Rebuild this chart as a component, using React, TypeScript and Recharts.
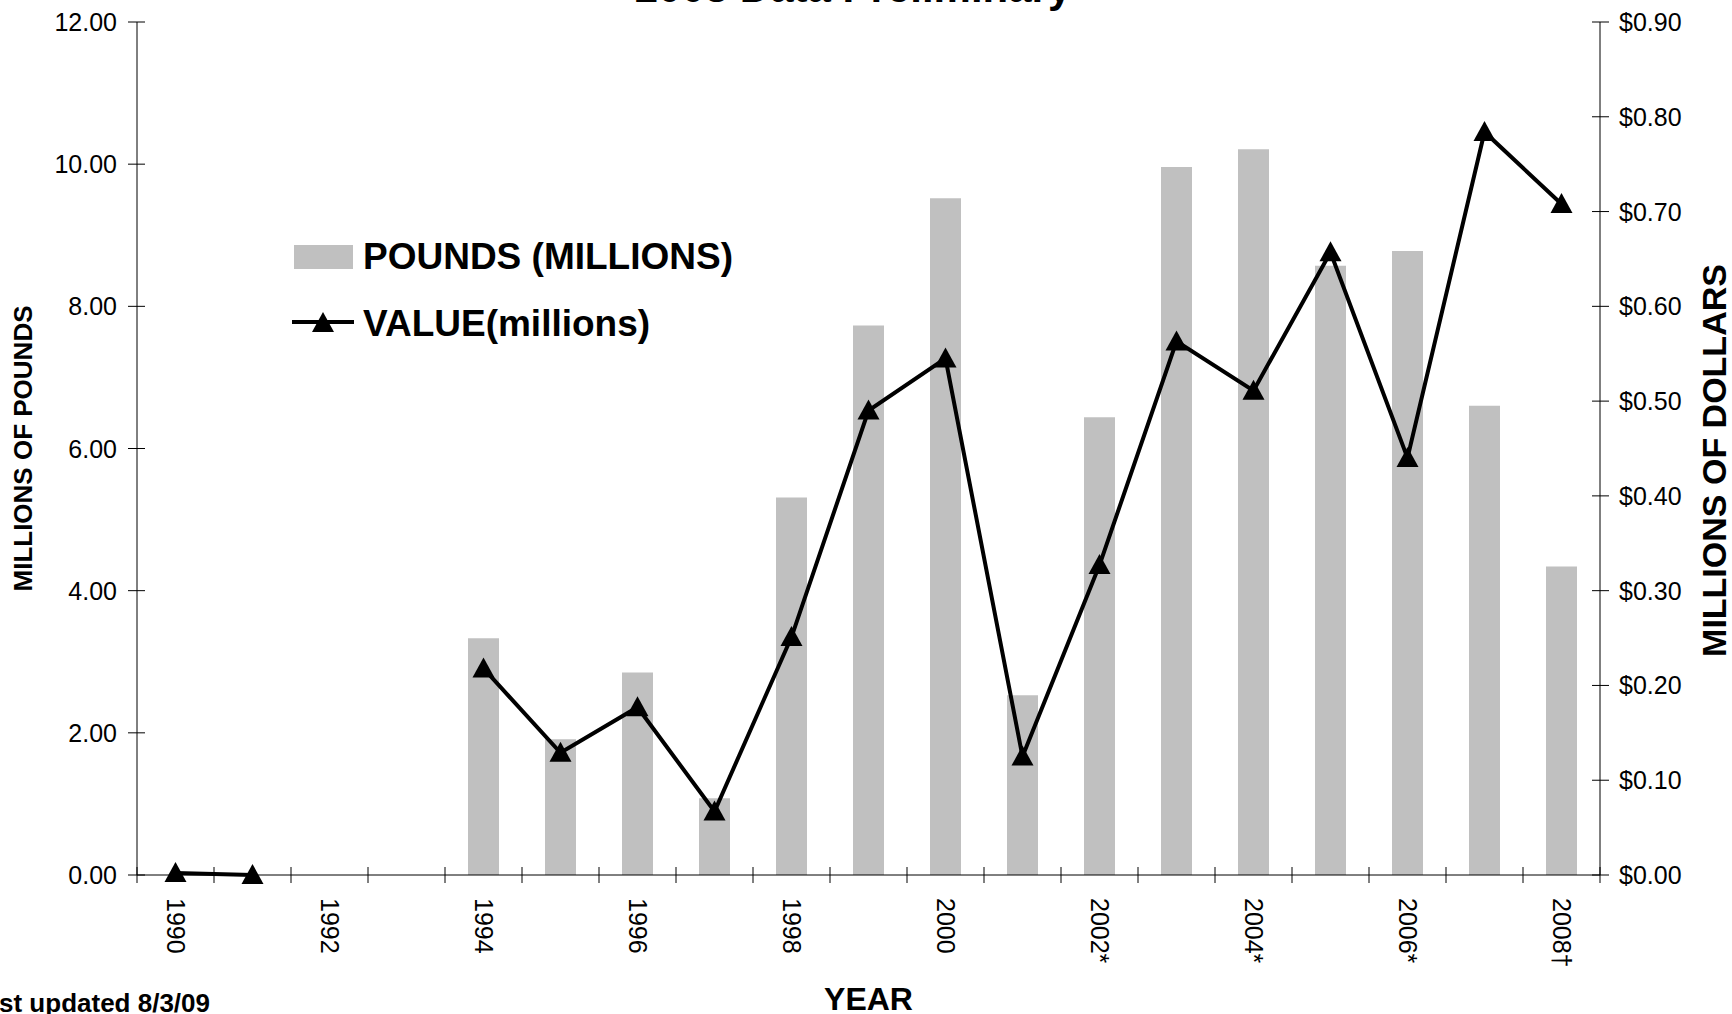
import React from 'react';
import { ComposedChart, Bar, Line, XAxis, YAxis, Legend, Label } from 'recharts';

const years = ['1990', '1991', '1992', '1993', '1994', '1995', '1996', '1997', '1998', '1999', '2000', '2001', '2002*', '2003*', '2004*', '2005*', '2006*', '2007*', '2008†'];
const pounds = [0, 0, null, null, 3.33, 1.91, 2.85, 1.08, 5.31, 7.73, 9.52, 2.53, 6.44, 9.96, 10.21, 8.57, 8.78, 6.6, 4.34];
const value = [0.002, 0.0, null, null, 0.218, 0.129, 0.177, 0.067, 0.251, 0.49, 0.545, 0.125, 0.327, 0.563, 0.511, 0.657, 0.44, 0.784, 0.708];
const poundTicks = [0, 2, 4, 6, 8, 10, 12];
const dollarTicks = [0, 0.1, 0.2, 0.3, 0.4, 0.5, 0.6, 0.7, 0.8, 0.9];

const data = years.map((year, i) => ({ year, pounds: pounds[i], value: value[i] }));

const W = 1732;
const H = 1014;
const LEFT_W = 137;
const RIGHT_W = 132;
const TOP = 22;
const X_H = 139;
const BAND = (W - LEFT_W - RIGHT_W) / years.length;
const FONT = '"Liberation Sans", Arial, sans-serif';
const GRAY = '#C0C0C0';

const Triangle = ({ cx, cy }: any) => {
  if (cx == null || cy == null) return <g />;
  return <polygon points={`${cx},${cy - 11} ${cx - 11},${cy + 9} ${cx + 11},${cy + 9}`} fill="#000" />;
};

const LeftTick = ({ x, y, payload }: any) => (
  <g>
    <line x1={x - 9} x2={x + 8} y1={y} y2={y} stroke="#000" />
    <text x={x - 20} y={y} textAnchor="end" dominantBaseline="central" fontSize={25} fill="#000" fontFamily={FONT}>
      {Number(payload.value).toFixed(2)}
    </text>
  </g>
);

const RightTick = ({ x, y, payload }: any) => (
  <g>
    <line x1={x - 8} x2={x + 9} y1={y} y2={y} stroke="#000" />
    <text x={x + 19} y={y} textAnchor="start" dominantBaseline="central" fontSize={25} fill="#000" fontFamily={FONT}>
      {'$' + Number(payload.value).toFixed(2)}
    </text>
  </g>
);

const YearTick = ({ x, y, payload, index }: any) => {
  const left = x - BAND / 2;
  return (
    <g>
      <line x1={left} x2={left} y1={y - 8} y2={y + 8} stroke="#000" />
      {index === years.length - 1 && <line x1={x + BAND / 2} x2={x + BAND / 2} y1={y - 8} y2={y + 8} stroke="#000" />}
      {index % 2 === 0 && (
        <text
          x={x}
          y={y + 23}
          transform={`rotate(90, ${x}, ${y + 23})`}
          textAnchor="start"
          dominantBaseline="central"
          fontSize={25}
          fill="#000"
          fontFamily={FONT}
        >
          {payload.value}
        </text>
      )}
    </g>
  );
};

const LegendBox = () => (
  <svg width={800} height={400} style={{ display: 'block' }}>
    <rect x={294} y={245} width={59} height={24} fill={GRAY} />
    <text x={363} y={269} fontSize={37} fontWeight="bold" fontFamily={FONT} fill="#000">POUNDS (MILLIONS)</text>
    <line x1={292} x2={354} y1={322} y2={322} stroke="#000" strokeWidth={4} />
    <Triangle cx={323} cy={323} />
    <text x={363} y={336} fontSize={37} fontWeight="bold" fontFamily={FONT} fill="#000">VALUE(millions)</text>
  </svg>
);

export default function App() {
  return (
    <div style={{ position: 'relative', width: W, height: H, background: '#fff', overflow: 'hidden' }}>
      <style>{'body{margin:0}'}</style>
      <ComposedChart width={W} height={H} data={data} margin={{ top: TOP, right: 0, bottom: 0, left: 0 }}>
        <XAxis
          dataKey="year"
          height={X_H}
          interval={0}
          tickLine={false}
          tickSize={0}
          tickMargin={0}
          axisLine={{ stroke: '#000' }}
          tick={<YearTick />}
        >
          <Label
            content={({ viewBox }: any) => (
              <text x={viewBox.x + viewBox.width / 2} y={viewBox.y + viewBox.height - 4} textAnchor="middle" fontSize={32} fontWeight="bold" fontFamily={FONT} fill="#000">
                YEAR
              </text>
            )}
          />
        </XAxis>
        <YAxis
          yAxisId="left"
          width={LEFT_W}
          domain={[0, 12]}
          ticks={poundTicks}
          interval={0}
          tickLine={false}
          tickSize={0}
          tickMargin={0}
          axisLine={{ stroke: '#000' }}
          tick={<LeftTick />}
        >
          <Label
            content={({ viewBox }: any) => {
              const cx = viewBox.x + 23;
              const cy = viewBox.y + viewBox.height / 2;
              return (
                <text x={cx} y={cy} transform={`rotate(-90, ${cx}, ${cy})`} textAnchor="middle" dominantBaseline="central" fontSize={26} fontWeight="bold" fontFamily={FONT} fill="#000">
                  MILLIONS OF POUNDS
                </text>
              );
            }}
          />
        </YAxis>
        <YAxis
          yAxisId="right"
          orientation="right"
          width={RIGHT_W}
          domain={[0, 0.9]}
          ticks={dollarTicks}
          interval={0}
          tickLine={false}
          tickSize={0}
          tickMargin={0}
          axisLine={{ stroke: '#000' }}
          tick={<RightTick />}
        >
          <Label
            content={({ viewBox }: any) => {
              const cx = viewBox.x + 114;
              const cy = viewBox.y + viewBox.height / 2 + 12;
              return (
                <text x={cx} y={cy} transform={`rotate(-90, ${cx}, ${cy})`} textAnchor="middle" dominantBaseline="central" fontSize={34} fontWeight="bold" fontFamily={FONT} fill="#000">
                  MILLIONS OF DOLLARS
                </text>
              );
            }}
          />
        </YAxis>
        <Legend
          content={<LegendBox />}
          layout="horizontal"
          verticalAlign="middle"
          align="center"
          wrapperStyle={{ position: 'absolute', left: 0, top: 0, width: 800, height: 400 }}
        />
        <Bar yAxisId="left" dataKey="pounds" fill={GRAY} barSize={31} isAnimationActive={false} />
        <Line
          yAxisId="right"
          dataKey="value"
          stroke="#000"
          strokeWidth={4}
          type="linear"
          dot={<Triangle />}
          activeDot={false}
          connectNulls={false}
          isAnimationActive={false}
        />
      </ComposedChart>
      <svg width={W} height={H} style={{ position: 'absolute', left: 0, top: 0, pointerEvents: 'none' }}>
        <text x={853} y={2} textAnchor="middle" fontSize={42} fontWeight="bold" fontFamily={FONT} fill="#000">
          2008 Data Preliminary
        </text>
        <text x={210} y={1012} textAnchor="end" fontSize={26} fontWeight="bold" fontFamily={FONT} fill="#000">
          Last updated 8/3/09
        </text>
      </svg>
    </div>
  );
}
